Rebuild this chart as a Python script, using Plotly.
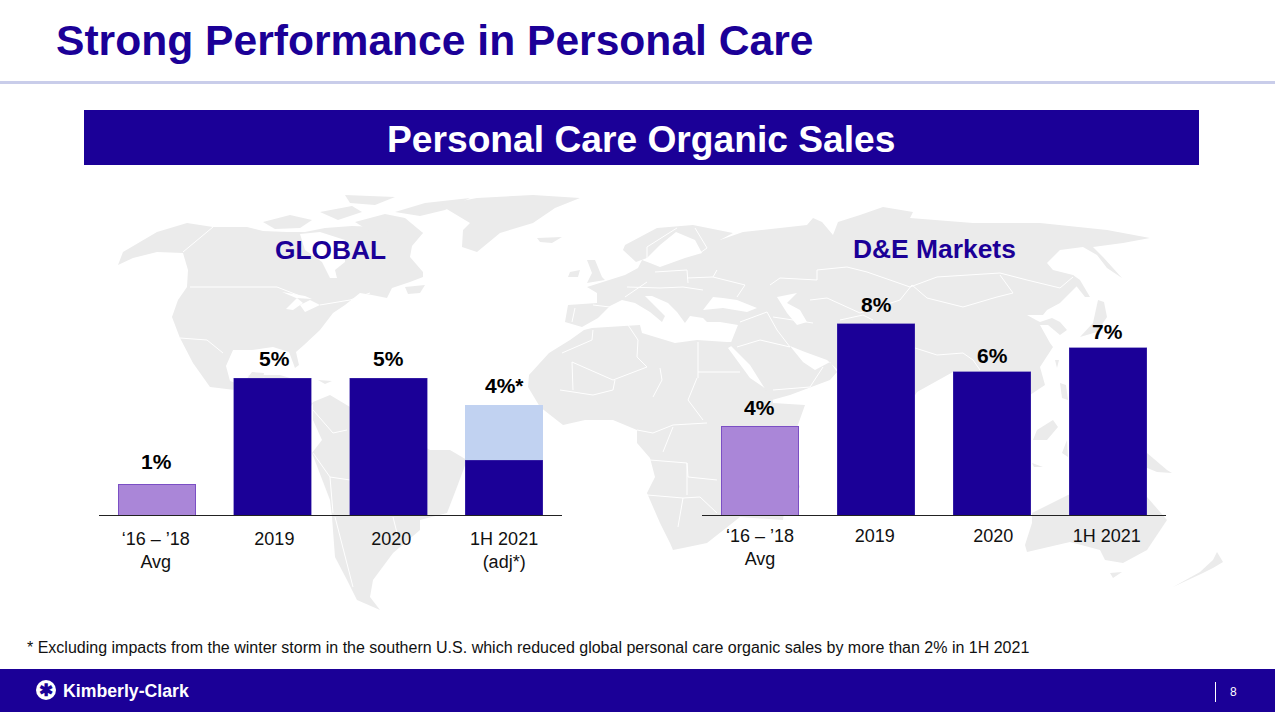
import plotly.graph_objects as go

# ---------- data ----------
categories_global = ["‘16 – ’18<br>Avg", "2019", "2020", "1H 2021<br>(adj*)"]
categories_de = ["‘16 – ’18<br>Avg", "2019", "2020", "1H 2021"]
global_avg = [1.1, None, None, None]
global_reported = [None, 5, 5, 2]
global_adjustment = [None, None, None, 2]
de_avg = [3.7, None, None, None]
de_reported = [None, 8, 6, 7]
global_labels = ["1%", "5%", "5%", "4%*"]
global_label_heights = [1.1, 5, 5, 4]
de_labels = ["4%", "8%", "6%", "7%"]
de_label_heights = [3.7, 8, 6, 7]

NAVY = "#1b0097"
PURPLE = "#aa86d8"
PURPLE_EDGE = "#7b4fc4"
LIGHT = "#c1d2f1"
LAND = "#ebebeb"
W, H = 1275, 712
FONT = "Liberation Sans"

# ---------- background map (decorative, traced in page pixels) ----------
land = [
    # North + Central America
    [(118,265),(123,252),(157,232),(187,223),(213,227),(247,227),(263,231),(287,232),(305,232),(325,228),(352,226),(380,227),(410,226),(423,233),(412,246),(410,257),(423,272),(423,277),(410,282),(392,288),(387,298),(372,295),(360,293),(345,305),(333,313),(320,330),(304,345),(296,352),(299,365),(295,368),(289,352),(273,347),(252,350),(233,350),(226,366),(230,381),(242,385),(252,372),(264,373),(262,384),(280,392),(313,403),(310,408),(290,400),(262,393),(235,390),(210,387),(193,363),(180,338),(172,317),(178,300),(187,287),(188,270),(183,253),(157,252),(133,258)],
    # Arctic islands
    [(263,222),(290,215),(312,220),(300,228),(275,229)],
    [(320,212),(352,206),(362,212),(338,220)],
    [(355,222),(385,214),(405,218),(423,233),(412,238),(388,232),(368,230)],
    [(395,212),(425,203),(470,198),(445,210),(420,216)],
    [(345,195),(395,197),(375,205),(350,203)],
    # Greenland
    [(440,205),(477,198),(533,195),(580,198),(555,208),(533,223),(500,233),(477,252),(462,247),(463,230),(470,223)],
    # Iceland
    [(537,238),(562,237),(552,243),(540,242)],
    # Newfoundland, Cuba, Hispaniola
    [(405,287),(425,285),(420,293),(408,294)],
    [(247,375),(280,375),(300,381),(278,380)],
    [(318,380),(332,381),(325,384)],
    # South America
    [(313,402),(330,395),(350,407),(395,428),(430,450),(450,450),(467,460),(457,487),(447,513),(420,520),(420,530),(393,553),(373,580),(370,597),(380,610),(357,600),(347,580),(335,557),(332,517),(330,500),(312,453),(322,440),(313,420)],
    # Africa
    [(584,330),(592,328),(640,325),(642,333),(675,343),(697,340),(727,342),(738,342),(728,348),(750,378),(772,393),(773,403),(805,405),(795,433),(787,450),(800,487),(785,505),(783,520),(740,517),(707,543),(683,548),(673,550),(670,543),(660,523),(647,493),(655,477),(650,458),(637,443),(637,430),(613,420),(585,420),(563,425),(540,407),(528,387),(529,375),(549,353),(570,340)],
    # Eurasia
    [(565,322),(568,305),(597,303),(597,293),(587,287),(625,275),(638,268),(642,260),(650,263),(660,267),(685,258),(702,253),(695,240),(676,232),(660,245),(647,258),(636,262),(623,250),(625,245),(657,228),(693,225),(733,233),(720,240),(743,232),(807,225),(813,218),(822,222),(833,235),(838,222),(860,215),(883,207),(913,212),(910,218),(973,223),(1040,223),(1107,230),(1150,238),(1123,243),(1093,247),(1103,257),(1122,278),(1107,268),(1097,255),(1083,247),(1060,250),(1047,263),(1053,270),(1073,275),(1078,285),(1060,303),(1047,310),(1043,315),(1027,315),(1036,320),(1040,322),(1052,318),(1060,322),(1067,330),(1060,335),(1048,325),(1040,325),(1050,343),(1053,347),(1040,367),(1045,385),(1030,395),(1005,375),(953,372),(917,392),(885,445),(860,400),(838,370),(827,360),(805,352),(790,346),(803,362),(815,370),(830,362),(837,372),(830,380),(790,395),(772,400),(750,365),(730,345),(738,325),(720,322),(707,322),(703,318),(690,316),(685,323),(677,312),(668,303),(652,296),(645,296),(665,316),(662,322),(650,312),(635,303),(622,300),(610,306),(598,318),(582,327)],
    # Britain, Ireland
    [(587,260),(595,260),(602,277),(605,280),(587,283),(592,273)],
    [(570,272),(580,270),(578,277),(568,277)],
    # Japan, Sakhalin, Taiwan, Philippines
    [(1098,300),(1104,302),(1107,317),(1097,332),(1080,337),(1093,323)],
    [(1073,275),(1080,280),(1090,297),(1085,297),(1070,278)],
    [(1055,360),(1059,360),(1057,368)],
    [(1060,383),(1066,385),(1068,400),(1062,398)],
    # Indonesia, New Guinea
    [(1037,430),(1053,420),(1058,427),(1047,440),(1033,440)],
    [(1062,453),(1067,440),(1068,457)],
    [(1032,463),(1043,467),(1034,467)],
    [(1147,453),(1167,470),(1172,473),(1157,472),(1140,465)],
    # Australia, Tasmania, New Zealand
    [(1032,513),(1068,495),(1100,485),(1147,497),(1167,520),(1147,550),(1123,563),(1105,560),(1100,550),(1070,542),(1027,552),(1025,545),(1032,523)],
    [(1110,573),(1122,572),(1113,578)],
    [(1217,552),(1223,562),(1213,568),(1203,573),(1173,587),(1200,572),(1213,560)],
]
seas = [
    [(300,234),(320,232),(345,240),(345,262),(335,270),(337,278),(330,278),(322,262),(305,250)],
    [(282,292),(305,296),(312,299),(296,298)],
    [(286,309),(297,298),(303,303),(293,310)],
    [(310,300),(320,305),(305,312),(300,305)],
    [(703,310),(713,297),(723,298),(737,300),(757,308),(747,312),(723,308)],
    [(777,297),(797,293),(787,303),(800,310),(807,322),(797,325),(787,313),(782,305)],
]
borders = [
    [(213,227),(183,252)],[(190,287),(277,287),(300,296)],[(320,305),(350,300),(370,293)],[(180,338),(207,340),(223,353)],
    [(313,410),(333,433),(347,430)],[(313,453),(330,477),(350,480)],[(330,477),(333,513)],[(335,517),(353,587)],[(393,517),(397,533)],
    [(628,325),(638,340),(637,357),(647,367)],[(698,342),(698,378)],[(698,372),(740,372)],[(562,353),(592,340),(593,330)],
    [(572,362),(613,380),(647,367)],[(660,368),(662,380),(653,397)],[(697,378),(688,400),(703,420)],[(572,362),(573,390)],
    [(560,390),(593,395),(613,390),(615,380)],[(637,430),(653,433),(673,425),(707,423)],[(650,460),(687,463),(688,477),(717,480)],
    [(647,495),(683,498),(700,497),(717,513)],[(683,498),(678,527)],[(687,463),(687,495)],[(663,452),(673,427)],
    [(770,285),(780,278),(817,280),(817,270),(847,267),(867,272),(910,287)],[(910,287),(937,277),(1000,273),(1027,280),(1060,288),(1073,277)],
    [(912,285),(927,298),(963,307),(997,297),(1013,293),(1000,275)],[(810,300),(827,298),(860,313),(900,300),(912,285)],
    [(767,312),(777,330),(790,347)],[(773,317),(813,323)],[(737,347),(760,340),(790,347)],[(773,390),(810,387),(823,367)],[(767,312),(740,322)],
    [(713,277),(745,285),(737,297)],[(655,272),(687,270),(688,283)],[(687,278),(713,277),(717,270)],[(625,297),(647,282)],
    [(627,287),(660,288),(683,287),(703,290)],[(575,308),(572,322)],[(593,305),(610,307)],[(695,228),(707,248),(700,253)],
    [(677,228),(647,247),(647,260)],[(915,348),(937,355),(963,353),(973,360),(980,370)],[(840,320),(863,315),(873,320)],
]


def px(x, y):
    return f"{x / W:.5f} {1 - y / H:.5f}"


def path(points, close=True):
    body = " L ".join(px(x, y) for x, y in points)
    return f"M {body}" + (" Z" if close else "")


def rect(x0, y0, x1, y1, color):
    return dict(type="rect", xref="paper", yref="paper", x0=x0 / W, x1=x1 / W, y0=1 - y0 / H, y1=1 - y1 / H,
                fillcolor=color, line_width=0, layer="below")


shapes = []
for poly in land:
    shapes.append(dict(type="path", xref="paper", yref="paper", path=path(poly), fillcolor=LAND, line_width=0, layer="below"))
for poly in seas:
    shapes.append(dict(type="path", xref="paper", yref="paper", path=path(poly), fillcolor="white", line_width=0, layer="below"))
for line in borders:
    shapes.append(dict(type="path", xref="paper", yref="paper", path=path(line, False), line=dict(color="white", width=1), layer="below"))
shapes += [
    rect(0, 81, W, 84, "#c9cdea"),
    rect(84, 110, 1199, 165, NAVY),
    rect(0, 669, W, H, NAVY),
    rect(1215, 682, 1216, 702, "#ffffff"),
    dict(type="circle", xref="paper", yref="paper", x0=36 / W, x1=56 / W, y0=1 - 700 / H, y1=1 - 680 / H,
         fillcolor="white", line_width=0, layer="above"),
]


def note(text, x, y, size, color="black", bold=False, anchor="center"):
    return dict(text=f"<b>{text}</b>" if bold else text, x=x / W, y=1 - y / H, xref="paper", yref="paper",
                xanchor=anchor, yanchor="middle", showarrow=False, font=dict(family=FONT, size=size, color=color))


annotations = [
    note("Strong Performance in Personal Care", 54, 40, 42.6, NAVY, True, "left"),
    note("Personal Care Organic Sales", 641, 139, 37.2, "white", True),
    note("GLOBAL", 330.5, 250, 26.3, NAVY, True),
    note("D&amp;E Markets", 934.5, 249, 26.4, NAVY, True),
    note("* Excluding impacts from the winter storm in the southern U.S. which reduced global personal care organic sales by more than 2% in 1H 2021",
         25, 647, 16, "#111111", False, "left"),
    note("Kimberly-Clark", 61, 691, 17.7, "white", True, "left"),
    note("✱", 46, 690, 17, NAVY, True),
    note("8", 1233, 692, 12, "white"),
]

positions = list(range(len(categories_global)))
for labels, heights, xa, ya, nudges, shifts in [
    (global_labels, global_label_heights, "x", "y", [23, 19, 19, 20], [0, 2, 0, 0]),
    (de_labels, de_label_heights, "x2", "y2", [19, 19, 16, 16], [0, 1, 1, -1]),
]:
    for c, t, v, n, s in zip(positions, labels, heights, nudges, shifts):
        annotations.append(dict(text=f"<b>{t}</b>", x=c, y=v, xref=xa, yref=ya, yshift=n, xshift=s, showarrow=False,
                                yanchor="middle", font=dict(family=FONT, size=21, color="black")))

fig = go.Figure()
edge = dict(color="#4a35b0", width=0.5)
purple_edge = dict(color=PURPLE_EDGE, width=1)
fig.add_bar(x=positions, y=global_avg, marker=dict(color=PURPLE, line=purple_edge), xaxis="x", yaxis="y")
fig.add_bar(x=positions, y=global_reported, marker=dict(color=NAVY, line=edge), xaxis="x", yaxis="y")
fig.add_bar(x=positions, y=global_adjustment, marker=dict(color=LIGHT, line_width=0), xaxis="x", yaxis="y")
fig.add_bar(x=positions, y=de_avg, marker=dict(color=PURPLE, line=purple_edge), xaxis="x2", yaxis="y2")
fig.add_bar(x=positions, y=de_reported, marker=dict(color=NAVY, line=edge), xaxis="x2", yaxis="y2")


def xaxis(x0, x1, anchor, ticktext, standoff, tick_nudge):
    return dict(domain=[x0 / W, x1 / W], anchor=anchor, range=[-0.5, 3.5], tickmode="array",
                tickvals=[p + n for p, n in zip(positions, tick_nudge)], ticktext=ticktext,
                showline=True, linecolor="#222222", linewidth=1, automargin=False,
                ticks="", showgrid=False, zeroline=False, ticklabelstandoff=standoff,
                tickfont=dict(family=FONT, size=18, color="#111111"), fixedrange=True)


def yaxis(top, vmax, anchor):
    return dict(domain=[1 - 515 / H, 1 - top / H], anchor=anchor, range=[0, vmax], visible=False, fixedrange=True, automargin=False)


fig.update_layout(
    width=W, height=H, autosize=False, margin=dict(l=0, r=0, t=0, b=0, autoexpand=False),
    paper_bgcolor="white", plot_bgcolor="rgba(0,0,0,0)", showlegend=False, barmode="stack", bargap=0.33,
    xaxis=xaxis(99, 562, "y", categories_global, 7, [-0.01, 0.015, 0.025, 0]), yaxis=yaxis(350.6, 6, "x"),
    xaxis2=xaxis(702, 1166, "y2", categories_de, 4, [0, -0.01, 0.01, -0.01]), yaxis2=yaxis(300, 9, "x2"),
    shapes=shapes, annotations=annotations,
)
fig.write_html("out.html", config=dict(displayModeBar=False),
               post_script="document.body.style.margin='0';document.documentElement.style.overflow='hidden';")
